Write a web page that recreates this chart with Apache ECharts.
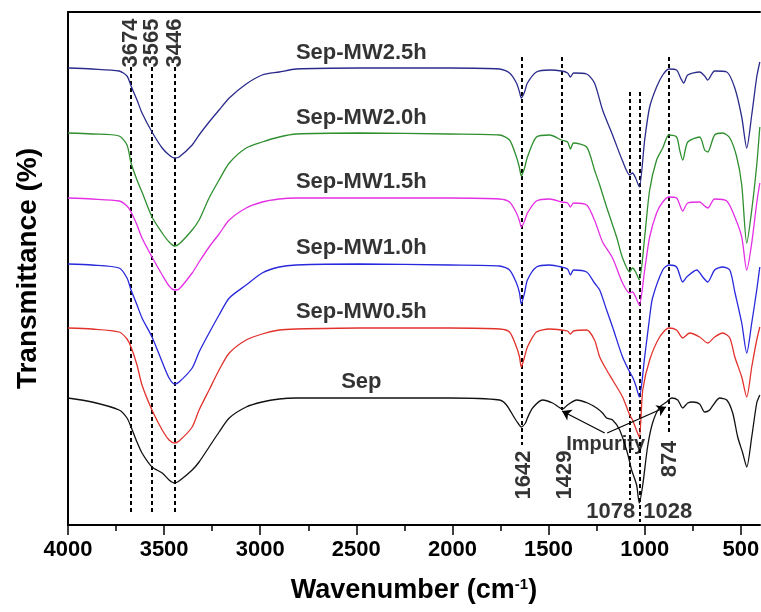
<!DOCTYPE html>
<html>
<head>
<meta charset="utf-8">
<script src="https://cdn.jsdelivr.net/npm/echarts@6/dist/echarts.min.js"></script>
<style>
  html, body { margin: 0; padding: 0; background: #fff; }
  #chart { width: 761px; height: 612px; }
</style>
</head>
<body>
<div id="chart"></div>
<script>
// FTIR spectra, [wavenumber, offset transmittance (a.u.)]
var sepMW25 = [[4000,457],[3875,456],[3734,454],[3693,449],[3672,439],[3641,425],[3615,412],[3563,393],[3510,377],[3474,370],[3446,367],[3422,368],[3354,380],[3318,390],[3266,403],[3214,415],[3161,427],[3073,441],[2990,450],[2901,453],[2813,456],[2484,457],[2016,457],[1755,456],[1703,452],[1667,442],[1651,433],[1642,427],[1625,433],[1610,442],[1563,453],[1495,455],[1432,454],[1401,452],[1386,448],[1370,452],[1302,451],[1261,442],[1219,415],[1167,390],[1115,364],[1078,350],[1063,352],[1047,347],[1028,338],[1000,385],[974,418],[938,438],[906,450],[874,456],[834,455],[813,447],[797,442],[776,450],[714,453],[688,449],[672,445],[636,454],[573,453],[531,437],[495,408],[469,377],[443,410],[417,448],[401,463]];
var sepMW20 = [[4000,392],[3875,391],[3734,389],[3693,380],[3672,362],[3641,345],[3615,333],[3563,308],[3510,292],[3474,283],[3446,279],[3422,281],[3354,295],[3318,305],[3266,327],[3214,345],[3161,362],[3073,377],[2990,383],[2901,388],[2813,391],[2484,392],[2016,391],[1755,390],[1703,385],[1667,368],[1651,357],[1642,349],[1625,357],[1610,368],[1563,388],[1495,390],[1432,385],[1401,383],[1386,376],[1370,382],[1302,378],[1261,355],[1234,340],[1198,318],[1146,288],[1115,267],[1078,253],[1063,257],[1047,253],[1028,245],[1000,288],[974,335],[938,365],[906,377],[874,390],[834,388],[818,375],[802,365],[776,383],[714,388],[688,375],[672,373],[636,390],[594,392],[557,387],[521,368],[495,340],[469,282],[443,315],[417,360],[401,398]];
var sepMW15 = [[4000,327],[3875,326],[3734,324],[3693,319],[3672,313],[3641,300],[3615,287],[3563,268],[3510,250],[3474,239],[3446,235],[3422,236],[3354,252],[3318,263],[3266,278],[3214,291],[3161,305],[3073,317],[2990,323],[2901,326],[2813,327],[2484,327],[2016,327],[1755,326],[1703,323],[1667,312],[1651,304],[1642,298],[1625,304],[1610,312],[1563,324],[1495,326],[1432,323],[1401,322],[1386,318],[1370,322],[1302,320],[1261,305],[1219,283],[1167,267],[1115,242],[1078,232],[1063,233],[1047,228],[1028,220],[1000,255],[974,288],[938,312],[906,323],[874,328],[834,327],[802,314],[776,322],[714,323],[688,319],[672,317],[636,326],[573,324],[531,308],[495,288],[469,255],[443,282],[417,322],[401,342]];
var sepMW10 = [[4000,261],[3875,260],[3734,257],[3693,247],[3672,235],[3641,220],[3615,207],[3563,188],[3510,163],[3474,147],[3446,141],[3422,143],[3354,157],[3318,173],[3266,192],[3214,210],[3161,227],[3073,240],[2990,252],[2901,258],[2813,260],[2484,261],[2016,260],[1755,259],[1703,255],[1667,242],[1651,232],[1642,221],[1625,232],[1610,245],[1563,258],[1495,260],[1432,258],[1401,256],[1386,250],[1370,255],[1302,253],[1261,242],[1234,235],[1198,215],[1167,198],[1115,168],[1078,153],[1063,148],[1047,140],[1028,128],[1000,168],[974,208],[959,227],[906,255],[874,260],[834,258],[802,243],[781,248],[729,255],[698,248],[672,243],[636,255],[594,258],[557,255],[531,233],[495,202],[469,172],[443,202],[417,235],[401,258]];
var sepMW05 = [[4000,197],[3875,196],[3734,193],[3693,186],[3672,178],[3641,160],[3615,140],[3563,115],[3510,95],[3474,85],[3446,82],[3422,84],[3354,98],[3318,115],[3266,135],[3214,155],[3161,172],[3073,185],[2990,191],[2901,195],[2813,196],[2484,197],[2016,197],[1755,196],[1703,193],[1667,178],[1651,168],[1642,158],[1625,168],[1610,178],[1563,193],[1495,196],[1432,195],[1401,194],[1386,191],[1370,194],[1302,195],[1261,185],[1234,168],[1198,155],[1167,145],[1115,128],[1078,110],[1063,105],[1047,97],[1028,88],[1010,135],[974,165],[922,188],[874,197],[834,195],[802,187],[766,192],[714,188],[672,182],[636,188],[594,192],[557,187],[531,168],[495,148],[469,128],[443,158],[417,185],[401,198]];
var sep = [[4000,127],[3875,123],[3734,115],[3693,107],[3672,98],[3641,83],[3615,72],[3563,58],[3510,52],[3474,45],[3446,42],[3422,44],[3354,55],[3318,63],[3266,78],[3214,93],[3161,107],[3073,118],[2990,123],[2901,126],[2813,127],[2484,127],[2016,127],[1755,125],[1719,120],[1677,107],[1656,101],[1642,98],[1620,102],[1610,107],[1583,117],[1531,125],[1479,122],[1427,116],[1401,120],[1354,125],[1297,122],[1250,117],[1219,112],[1198,107],[1167,105],[1130,95],[1094,75],[1078,63],[1068,55],[1042,40],[1028,22],[1010,40],[985,78],[959,102],[922,118],[886,123],[860,127],[828,125],[802,117],[776,122],[750,123],[714,121],[688,113],[662,115],[610,127],[573,125],[542,112],[516,88],[490,72],[469,58],[443,88],[417,122],[401,130]];

var seriesNames = ['Sep-MW2.5h', 'Sep-MW2.0h', 'Sep-MW1.5h', 'Sep-MW1.0h', 'Sep-MW0.5h', 'Sep'];
var seriesColors = ['#2b2b8c', '#2f8f2f', '#e42fe4', '#2828dc', '#e2322c', '#111111'];
var seriesData = [sepMW25, sepMW20, sepMW15, sepMW10, sepMW05, sep];

// curve name labels [wavenumber, level]
var nameLabelPos = [[2474,472],[2474,407],[2474,343],[2474,277],[2474,213],[2474,143]];

// marked bands: [wavenumber, top, bottom]
var bandLines = [[3674,458,10],[3565,458,10],[3446,458,10],[1642,468,80],[1429,468,115],[1078,433,25],[1028,433,3],[874,468,90]];
// band labels: [text, wavenumber, level, rotate]
var bandLabels = [['3674',3674,482,90],['3565',3565,482,90],['3446',3446,482,90],['1642',1630,50,90],['1429',1414,50,90],['874',866,66,90],['1078',1177,13,0],['1028',880,13,0],['Impurity',1203,81,0]];
// arrows from the "Impurity" note
var arrows = [[[1208,92],[1430,114]],[[1195,92],[889,118]]];

var xLabels = [4000, 3500, 3000, 2500, 2000, 1500, 1000, 500];
var xMinor = [3750, 3250, 2750, 2250, 1750, 1250, 750];

var font = 'Liberation Sans, Arial, sans-serif';
var chart = echarts.init(document.getElementById('chart'));

var series = [];
seriesData.forEach(function (d, i) {
    series.push({
        type: 'line', name: seriesNames[i], data: d,
        showSymbol: false, smooth: 0.25,
        lineStyle: { color: seriesColors[i], width: 1.3 },
        itemStyle: { color: seriesColors[i] },
        silent: true, z: 3
    });
});

series.push({
    type: 'lines', coordinateSystem: 'cartesian2d', silent: true, z: 2,
    lineStyle: { color: '#000', width: 2, type: [4, 3], opacity: 1 },
    data: bandLines.map(function (b) { return { coords: [[b[0], b[1]], [b[0], b[2]]] }; })
});

series.push({
    type: 'lines', coordinateSystem: 'cartesian2d', silent: true, z: 4,
    symbol: ['none', 'arrow'], symbolSize: 9,
    lineStyle: { color: '#000', width: 1.2, opacity: 1 },
    data: arrows.map(function (a) { return { coords: a }; })
});

series.push({
    type: 'scatter', symbolSize: 0, silent: true, z: 5,
    data: nameLabelPos.map(function (p, i) {
        return { value: p, name: seriesNames[i] };
    }),
    label: {
        show: true, position: 'inside', formatter: '{b}',
        fontFamily: font, fontWeight: 'bold', fontSize: 22, color: '#000'
    }
});

series.push({
    type: 'scatter', symbolSize: 0, silent: true, z: 5,
    data: bandLabels.map(function (b) {
        return { value: [b[1], b[2]], name: b[0], label: { rotate: b[3] } };
    }),
    label: {
        show: true, position: 'inside', formatter: '{b}',
        fontFamily: font, fontWeight: 'bold', fontSize: 22, color: '#000'
    }
});
series[series.length - 1].data[8].label.fontSize = 20;

var option = {
    backgroundColor: '#fff',
    animation: false,
    grid: { left: 68, right: 1, top: 12, bottom: 87, outerBoundsMode: 'none', containLabel: false },
    xAxis: [{
        type: 'value', min: 400, max: 4000, inverse: true,
        name: '{t|Wavenumber (cm}{s|-1}{t|)}', nameLocation: 'middle', nameGap: 52,
        nameTextStyle: {
            rich: {
                t: { fontFamily: font, fontWeight: 'bold', fontSize: 27, color: '#000' },
                s: { fontFamily: font, fontWeight: 'bold', fontSize: 15, color: '#000', verticalAlign: 'top', padding: [0, 0, 12, 0] }
            }
        },
        splitLine: { show: false },
        axisLine: { lineStyle: { color: '#000', width: 2 } },
        axisTick: { customValues: xLabels, length: 10, lineStyle: { color: '#000', width: 1.5 } },
        axisLabel: {
            customValues: xLabels, margin: 14, hideOverlap: false,
            formatter: function (v) { return String(v); },
            fontFamily: font, fontWeight: 'bold', fontSize: 22, color: '#000'
        }
    }, {
        type: 'value', min: 400, max: 4000, inverse: true, position: 'bottom',
        splitLine: { show: false }, axisLine: { show: false }, axisLabel: { show: false },
        axisTick: { customValues: xMinor, length: 6, lineStyle: { color: '#000', width: 1.5 } }
    }, {
        type: 'value', min: 400, max: 4000, inverse: true, position: 'top',
        splitLine: { show: false }, axisLabel: { show: false }, axisTick: { show: false },
        axisLine: { lineStyle: { color: '#000', width: 2 } }
    }],
    yAxis: {
        type: 'value', min: 0, max: 513,
        name: 'Transmittance (%)', nameLocation: 'middle', nameGap: 26,
        nameTextStyle: { fontFamily: font, fontWeight: 'bold', fontSize: 28, color: '#000' },
        splitLine: { show: false },
        axisTick: { show: false }, axisLabel: { show: false },
        axisLine: { show: true, lineStyle: { color: '#000', width: 2 } }
    },
    series: series
};

chart.setOption(option);
</script>
</body>
</html>
